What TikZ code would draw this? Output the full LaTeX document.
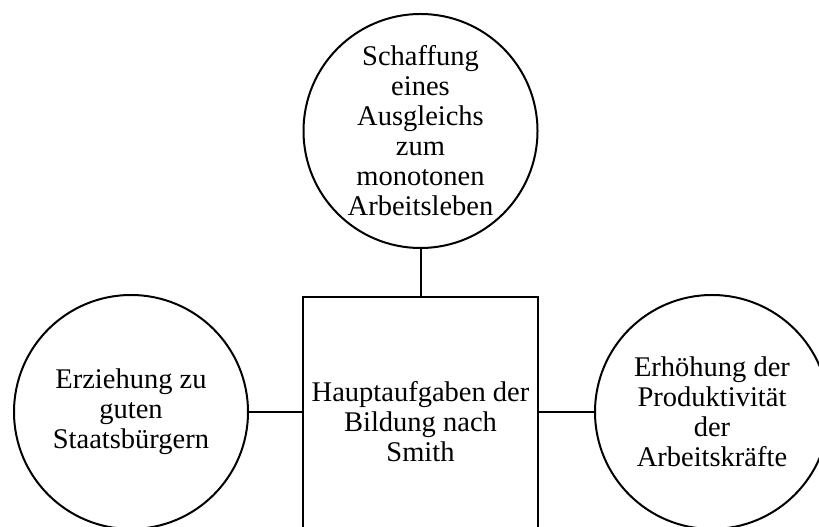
\documentclass[tikz,border=0pt]{standalone}
\usepackage{fontspec}
\setmainfont{Liberation Serif}
\usepackage{tikz}

\tikzset{
  ziel/.style={draw,circle,inner sep=0pt,minimum size=234pt,align=center,
    font=\fontsize{28.5}{30}\selectfont},
  kasten/.style={draw,rectangle,inner sep=0pt,minimum width=235pt,minimum height=250pt,
    align=center,font=\fontsize{28.5}{30}\selectfont}
}

\begin{document}
\begin{tikzpicture}[x=1pt,y=1pt,line width=2pt]
\clip (0,0) rectangle (819,527);
\node[kasten] (mitte) at (420.5,105) {Hauptaufgaben der\\Bildung nach\\Smith};
\node[ziel] (oben) at (420.5,396) {Schaffung\\eines\\Ausgleichs\\zum\\monotonen\\Arbeitsleben};
\node[ziel] (links) at (131,115) {Erziehung zu\\guten\\Staatsbürgern};
\node[ziel] (rechts) at (712,115) {Erhöhung der\\Produktivität\\der\\Arbeitskräfte};
\draw (oben.south) -- (mitte.north);
\draw (links.east) -- (links.east -| mitte.west);
\draw (rechts.west) -- (rechts.west -| mitte.east);
\end{tikzpicture}
\end{document}
